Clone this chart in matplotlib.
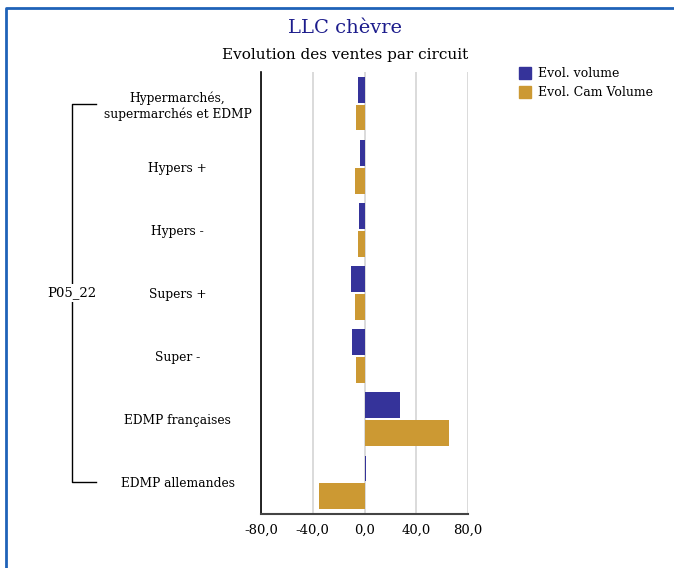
import matplotlib
matplotlib.use("Agg")
import matplotlib.pyplot as plt
import matplotlib.transforms as mtransforms
from matplotlib.patches import Patch
from matplotlib.lines import Line2D

# data
categories = ["Hypermarchés,\nsupermarchés et EDMP", "Hypers +", "Hypers -",
              "Supers +", "Super -", "EDMP françaises", "EDMP allemandes"]
evol_volume = [-5.4, -3.1, -3.9, -10.1, -9.3, 27.1, 1.0]
evol_cam_volume = [-6.2, -7.7, -5.4, -7.0, -6.2, 65.0, -34.8]
group_label = "P05_22"
xticks = [-80, -40, 0, 40, 80]
xtick_labels = ["-80,0", "-40,0", "0,0", "40,0", "80,0"]

BLUE = "#35339a"
GOLD = "#cc9933"
FRAME = "#1f62b8"

plt.rcParams["font.family"] = ["DejaVu Serif"]

W, H = 674, 568
fig = plt.figure(figsize=(W / 100, H / 100), dpi=100)
ax = fig.add_axes([261 / W, 1 - 514 / H, 207 / W, 442 / H])

pos = list(range(len(categories)))
ax.barh([p - 0.22 for p in pos], evol_volume, height=0.41, color=BLUE,
        label="Evol. volume", zorder=3)
ax.barh([p + 0.22 for p in pos], evol_cam_volume, height=0.41, color=GOLD,
        label="Evol. Cam Volume", zorder=3)

ax.set_xlim(-80, 80)
ax.set_ylim(len(categories) - 0.5, -0.5)
ax.set_xticks(xticks)
ax.set_xticklabels(xtick_labels, fontsize=9.5)
ax.set_yticks(pos)
ax.set_yticklabels(categories, fontsize=8.8)
ax.tick_params(axis="x", length=0, pad=7)
ax.tick_params(axis="y", length=0, pad=60)
for lab in ax.get_yticklabels():
    lab.set_horizontalalignment("center")
    lab.set_multialignment("center")

ax.grid(axis="x", color="#d4d4d4", lw=1.2, zorder=0)
ax.spines["top"].set_visible(False)
ax.spines["right"].set_visible(False)
ax.spines["left"].set_color("black")
ax.spines["left"].set_linewidth(1.2)
ax.spines["bottom"].set_color("#444444")
ax.spines["bottom"].set_linewidth(1.5)

# group bracket on the left
tr = mtransforms.blended_transform_factory(fig.transFigure, ax.transData)
fig.add_artist(Line2D([96 / W, 72 / W, 72 / W, 96 / W], [0, 0, 6, 6],
                      transform=tr, color="black", lw=1))
fig.text(72 / W, 3, group_label, transform=tr, ha="center", va="center",
         fontsize=9.5, bbox=dict(facecolor="white", edgecolor="none", pad=2))

# titles
fig.text(345 / W, 1 - 28 / H, "LLC chèvre", ha="center", va="center",
         fontsize=14, color="#1c1c8c")
fig.text(345 / W, 1 - 55 / H, "Evolution des ventes par circuit",
         ha="center", va="center", fontsize=11)

handles = [Patch(color=BLUE), Patch(color=GOLD)]
fig.legend(handles, ["Evol. volume", "Evol. Cam Volume"], loc="upper left",
           bbox_to_anchor=(514 / W, 1 - 62 / H), frameon=False, fontsize=9,
           handlelength=0.95, handleheight=1.05, handletextpad=0.55,
           labelspacing=0.5, borderaxespad=0)

# blue frame
fig.add_artist(Line2D([6 / W, 6 / W, 1.01], [-0.01, 1 - 8 / H, 1 - 8 / H],
                      transform=fig.transFigure, color=FRAME, lw=2))

fig.savefig("out.png", dpi=100)
